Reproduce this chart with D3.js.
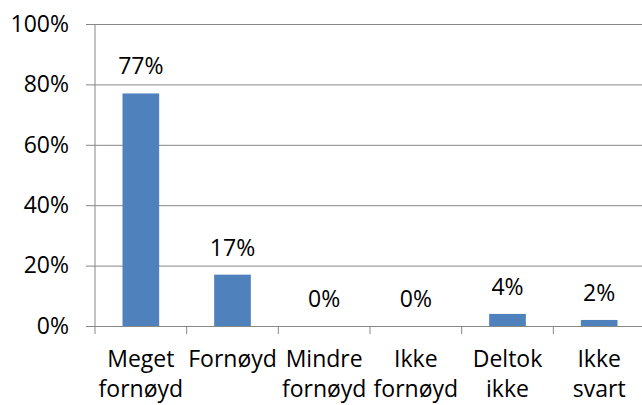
<!DOCTYPE html>
<html>
<head>
<meta charset="utf-8">
<script src="https://cdn.jsdelivr.net/npm/d3@7"></script>
<style>
  body { margin: 0; background: #fff; }
  svg text { font-family: "Open Sans", "Liberation Sans", sans-serif; fill: #000; }
</style>
</head>
<body>
<div class="chart"></div>
<script>
// chart values
let categories = [["Meget", "fornøyd"], ["Fornøyd"], ["Mindre", "fornøyd"], ["Ikke", "fornøyd"], ["Deltok", "ikke"], ["Ikke", "svart"]];
let values = [0.77, 0.17, 0, 0, 0.04, 0.02];
let yTicks = [0, 0.2, 0.4, 0.6, 0.8, 1];

let margin = { top: 24, right: -3, bottom: 79, left: 95 };
let width = 642 - margin.left - margin.right;
let height = 405 - margin.top - margin.bottom;
let fontSize = 23;

let svg = d3.select(".chart").append("svg")
    .attr("width", 642)
    .attr("height", 405);

let plot = svg.append("g")
    .attr("transform", `translate(${margin.left},${margin.top})`);

let xScale = d3.scaleBand()
    .domain(d3.range(categories.length))
    .range([0, width])
    .paddingInner(0.6)
    .paddingOuter(0.3);

let yScale = d3.scaleLinear()
    .domain([0, 1])
    .range([height, 0]);

// gridlines + y ticks
let yAxis = plot.append("g")
    .attr("class", "y-axis")
    .call(d3.axisLeft(yScale)
        .tickValues(yTicks)
        .tickFormat(d3.format(".0%"))
        .tickSize(-width - 9)
        .tickPadding(17))
    .attr("transform", "translate(-9,0)");

yAxis.select(".domain").remove();
yAxis.selectAll(".tick line").attr("stroke", "#878787");
yAxis.selectAll(".tick text").attr("font-size", fontSize);

// vertical axis line
plot.append("line")
    .attr("x1", 0).attr("x2", 0)
    .attr("y1", 0).attr("y2", height)
    .attr("stroke", "#878787");

// x ticks between categories
plot.selectAll(".x-tick")
    .data(d3.range(categories.length + 1))
    .enter()
    .append("line")
    .attr("class", "x-tick")
    .attr("x1", d => d * width / categories.length)
    .attr("x2", d => d * width / categories.length)
    .attr("y1", height)
    .attr("y2", height + 8)
    .attr("stroke", "#878787");

// bars
plot.selectAll(".bar")
    .data(values)
    .enter()
    .append("rect")
    .attr("class", "bar")
    .attr("x", (d, i) => xScale(i))
    .attr("width", xScale.bandwidth())
    .attr("y", d => yScale(d))
    .attr("height", d => height - yScale(d))
    .attr("fill", "#4F81BD");

// value labels
plot.selectAll(".val")
    .data(values)
    .enter()
    .append("text")
    .attr("class", "val")
    .attr("x", (d, i) => xScale(i) + xScale.bandwidth() / 2)
    .attr("y", d => yScale(d) - 19)
    .attr("text-anchor", "middle")
    .attr("font-size", fontSize)
    .text(d => d3.format(".0%")(d));

// category labels
let catLabel = plot.selectAll(".cat")
    .data(categories)
    .enter()
    .append("text")
    .attr("class", "cat")
    .attr("text-anchor", "middle")
    .attr("font-size", fontSize)
    .attr("transform", (d, i) => `translate(${xScale(i) + xScale.bandwidth() / 2},${height + 41})`);

catLabel.selectAll("tspan")
    .data(d => d)
    .enter()
    .append("tspan")
    .attr("x", 0)
    .attr("dy", (d, i) => i === 0 ? 0 : 30)
    .text(d => d);
</script>
</body>
</html>
